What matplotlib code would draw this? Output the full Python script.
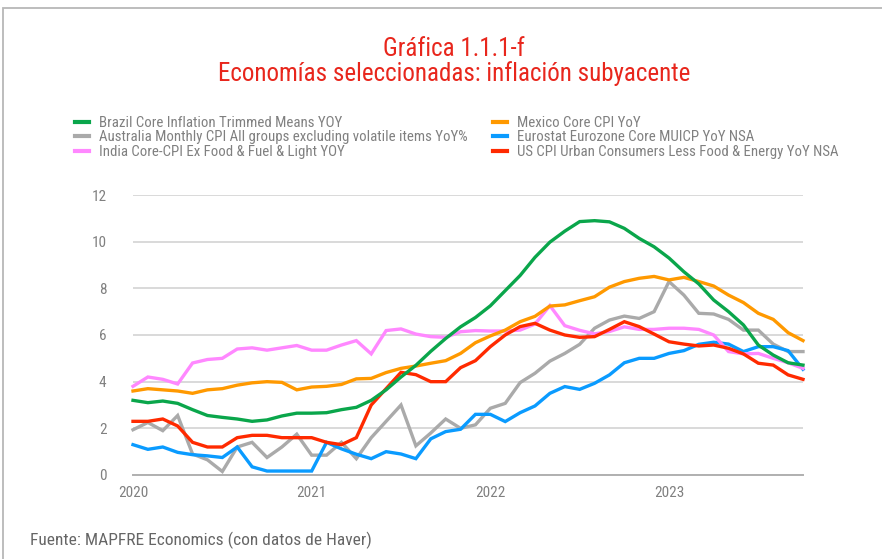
import matplotlib
matplotlib.use("Agg")
import matplotlib.pyplot as plt
from matplotlib import font_manager
from matplotlib.patches import Rectangle
from matplotlib.lines import Line2D
import numpy as np

#//////////////////////////////////////////////////////////////////////////////

# DATA (monthly, Dec 2019 .. Sep 2023)

brazil = [3.2, 3.1, 3.17, 3.07, 2.8, 2.55, 2.47, 2.4, 2.3, 2.36, 2.53, 2.65,
          2.65, 2.67, 2.8, 2.9, 3.2, 3.65, 4.2, 4.7, 5.3, 5.85, 6.35, 6.75,
          7.25, 7.9, 8.55, 9.33, 9.98, 10.45, 10.86, 10.9, 10.85, 10.57, 10.14, 9.78,
          9.3, 8.71, 8.19, 7.5, 7.0, 6.43, 5.57, 5.14, 4.81, 4.71]
mexico = [3.6, 3.7, 3.65, 3.6, 3.5, 3.65, 3.7, 3.85, 3.95, 4.0, 3.97, 3.65,
          3.77, 3.8, 3.88, 4.12, 4.14, 4.39, 4.57, 4.67, 4.79, 4.9, 5.21, 5.67,
          5.96, 6.21, 6.57, 6.8, 7.24, 7.29, 7.47, 7.64, 8.05, 8.29, 8.43, 8.51,
          8.36, 8.47, 8.29, 8.1, 7.71, 7.39, 6.93, 6.67, 6.1, 5.76]
australia = [1.94, 2.25, 1.9, 2.55, 0.9, 0.65, 0.15, 1.2, 1.4, 0.75, 1.2, 1.75,
             0.85, 0.85, 1.4, 0.7, 1.6, 2.3, 3.0, 1.25, 1.8, 2.4, 2.0, 2.15,
             2.86, 3.07, 3.96, 4.36, 4.88, 5.21, 5.6, 6.29, 6.64, 6.81, 6.71, 7.0,
             8.29, 7.71, 6.93, 6.9, 6.67, 6.21, 6.21, 5.61, 5.29, 5.29]
eurozone = [1.3, 1.1, 1.2, 0.97, 0.87, 0.82, 0.75, 1.2, 0.35, 0.17, 0.17, 0.17,
            0.17, 1.4, 1.12, 0.89, 0.7, 1.0, 0.9, 0.7, 1.55, 1.86, 1.96, 2.6,
            2.6, 2.29, 2.67, 2.96, 3.5, 3.79, 3.67, 3.93, 4.29, 4.81, 5.0, 5.0,
            5.21, 5.33, 5.6, 5.69, 5.61, 5.29, 5.5, 5.5, 5.33, 4.53]
india = [3.8, 4.2, 4.1, 3.9, 4.8, 4.95, 5.0, 5.4, 5.45, 5.35, 5.45, 5.55,
         5.35, 5.35, 5.57, 5.76, 5.19, 6.19, 6.26, 6.04, 5.93, 5.9, 6.14, 6.19,
         6.17, 6.17, 6.21, 6.47, 7.26, 6.4, 6.2, 6.05, 6.15, 6.35, 6.24, 6.24,
         6.29, 6.29, 6.24, 6.0, 5.29, 5.19, 5.21, 5.0, 4.81, 4.57]
us = [2.3, 2.3, 2.4, 2.1, 1.4, 1.2, 1.2, 1.6, 1.7, 1.7, 1.6, 1.6,
      1.6, 1.4, 1.3, 1.6, 3.0, 3.7, 4.4, 4.3, 4.0, 4.0, 4.6, 4.9,
      5.5, 6.0, 6.36, 6.5, 6.21, 6.0, 5.9, 5.93, 6.24, 6.57, 6.36, 6.04,
      5.71, 5.61, 5.53, 5.57, 5.43, 5.19, 4.79, 4.71, 4.29, 4.1]

year_ticks = [0, 12, 24, 36]
year_labels = ["2020", "2021", "2022", "2023"]
y_ticks = [0, 2, 4, 6, 8, 10, 12]

labels = ["Brazil Core Inflation Trimmed Means YOY",
          "Mexico Core CPI YoY",
          "Australia Monthly CPI All groups excluding volatile items YoY%",
          "Eurostat Eurozone Core MUICP YoY NSA",
          "India Core-CPI Ex Food & Fuel & Light YOY",
          "US CPI Urban Consumers Less Food & Energy YoY NSA"]
colors = ["#0AA64B", "#FF9900", "#AAAAAA", "#0A9BFF", "#FF88FF", "#FF2A00"]

#//////////////////////////////////////////////////////////////////////////////

# pick a narrow font if one is installed

def pick_font(names):
    for n in names:
        try:
            font_manager.findfont(n, fallback_to_default=False)
            return n
        except ValueError:
            pass
    return "DejaVu Sans"

narrow = pick_font(["Liberation Sans Narrow", "Roboto Condensed", "DejaVu Sans Condensed", "Roboto"])
plt.rcParams['font.family'] = [narrow, 'DejaVu Sans']

W, H = 882, 559
fig = plt.figure(figsize=(W / 100, H / 100), dpi=100)

# outer frame, cut off by the right and bottom edges
fig.add_artist(Rectangle((3 / W, -0.1), 1.2, 1 - 8 / H + 0.1, transform=fig.transFigure,
                         fill=False, ec="#b8b8b8", lw=1.3))

ax = fig.add_axes([133 / W, 84 / H, 670 / W, 280 / H])

series = [brazil, mexico, australia, eurozone, india, us]
order = [2, 3, 4, 5, 1, 0]   # draw order, green ends on top
x = np.arange(len(brazil))
for k in order:
    ax.plot(x, series[k], color=colors[k], lw=2.4, solid_joinstyle="miter",
            zorder=3 + order.index(k), clip_on=False)

ax.set_xlim(0, 45)
ax.set_ylim(0, 12)
ax.set_yticks(y_ticks)
ax.set_xticks(year_ticks)
ax.set_xticklabels(year_labels)
ax.tick_params(length=0, colors="#808080", labelsize=11)
ax.tick_params(axis="y", pad=19)
ax.tick_params(axis="x", pad=8)
ax.yaxis.grid(True, color="#cfcfcf", lw=1.1)
ax.set_axisbelow(True)
for s in ["top", "right", "left"]:
    ax.spines[s].set_visible(False)
ax.spines["bottom"].set_color("#b0b0b0")
ax.spines["bottom"].set_linestyle((0, (1, 1)))
ax.spines["bottom"].set_linewidth(1.4)

# titles
red = "#E8261C"
fig.text(454 / W, 1 - 49 / H, "Gráfica 1.1.1-f", ha="center", va="center",
         color=red, fontsize=18)
fig.text(454 / W, 1 - 74 / H, "Economías seleccionadas: inflación subyacente",
         ha="center", va="center", color=red, fontsize=18)

# legend in two columns
handles = [Line2D([], [], color=c, lw=3) for c in colors]
for col, x0 in [(0, 75), (1, 493)]:
    idx = [col, col + 2, col + 4]
    leg = fig.legend([handles[i] for i in idx], [labels[i] for i in idx],
                     loc="upper left", bbox_to_anchor=(x0 / W, 1 - 116 / H),
                     frameon=False, borderpad=0, borderaxespad=0,
                     handlelength=0.95, handletextpad=0.65, labelspacing=0.03,
                     fontsize=10.7)
    for t in leg.get_texts():
        t.set_color("#808080")

fig.text(30 / W, 1 - 540 / H, "Fuente: MAPFRE Economics (con datos de Haver)",
         ha="left", va="center", color="#666666", fontsize=12.5)

fig.savefig("out.png", dpi=100)
